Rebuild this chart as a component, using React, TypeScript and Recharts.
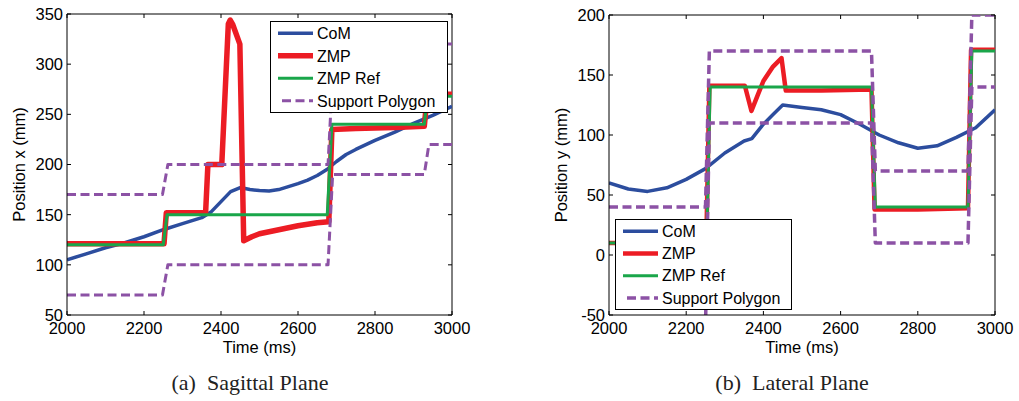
import { LineChart, Line, XAxis, YAxis, Legend, ReferenceLine } from "recharts";

type Pt = { t: number; v: number };
const zip = (ts: number[], vs: number[]): Pt[] => ts.map((t, i) => ({ t, v: vs[i] }));

const TIME_TICKS = [2000, 2200, 2400, 2600, 2800, 3000];
const SAG_TICKS = [50, 100, 150, 200, 250, 300, 350];
const LAT_TICKS = [-50, 0, 50, 100, 150, 200];

// sagittal plane (a)
const SAG_COM_T = [2000, 2050, 2100, 2150, 2200, 2250, 2300, 2350, 2375, 2400, 2425, 2450, 2475, 2500, 2525, 2550, 2575, 2600, 2625, 2650, 2675, 2700, 2725, 2750, 2800, 2850, 2900, 2950, 3000];
const SAG_COM_V = [105, 111, 117, 122, 128, 135, 141, 147, 153, 163, 173, 177, 175, 174, 173.5, 175, 178, 181, 184.5, 189, 195, 203, 210, 215, 224, 232, 241, 249, 258];
const SAG_ZMP_T = [2000, 2252, 2258, 2360, 2366, 2402, 2419, 2424, 2430, 2449, 2459, 2480, 2500, 2550, 2600, 2650, 2680, 2688, 2750, 2850, 2928, 2936, 3000];
const SAG_ZMP_V = [121, 121, 152, 152, 200, 200, 340, 344, 340, 320, 124, 128, 131, 135, 139, 142, 143, 235, 236, 237, 238, 270, 270];
const SAG_REF_T = [2000, 2250, 2260, 2676, 2688, 2928, 2936, 3000];
const SAG_REF_V = [120, 120, 150, 150, 240, 240, 268, 268];
const SAG_POLY_T = [2000, 2248, 2262, 2678, 2690, 2928, 2940, 3000];
const SAG_POLY_HI = [170, 170, 200, 200, 290, 290, 320, 320];
const SAG_POLY_LO = [70, 70, 100, 100, 190, 190, 220, 220];

// lateral plane (b)
const LAT_COM_T = [2000, 2050, 2100, 2150, 2200, 2250, 2300, 2350, 2370, 2400, 2425, 2450, 2500, 2550, 2600, 2650, 2700, 2750, 2800, 2850, 2900, 2950, 3000];
const LAT_COM_V = [60, 55, 53, 56, 63, 72, 85, 95, 97, 109, 117, 125, 123, 121, 117, 109, 100, 93.5, 89, 91, 98, 106, 121];
const LAT_ZMP_T = [2000, 2252, 2260, 2352, 2369, 2385, 2400, 2425, 2447, 2458, 2550, 2680, 2688, 2800, 2930, 2938, 3000];
const LAT_ZMP_V = [10, 10, 141, 141, 120, 133, 145, 157, 164, 137, 137, 138, 38, 38, 39, 171, 171];
const LAT_REF_T = [2000, 2253, 2262, 2680, 2690, 2930, 2940, 3000];
const LAT_REF_V = [10, 10, 140, 140, 40, 40, 170, 170];
const LAT_POLY_T = [2000, 2250, 2260, 2680, 2690, 2930, 2940, 3000];
const LAT_POLY_HI = [40, 40, 170, 170, 70, 70, 200, 200];
const LAT_POLY_LO = [-60, -60, 110, 110, 10, 10, 140, 140];

const BLUE = "#2c4d9e";
const RED = "#ec1c24";
const GREEN = "#1aa64a";
const PURPLE = "#8c52a5";
const DASH = "9 4.5";

const FONT = "'Liberation Sans', Arial, sans-serif";
const SERIF = "'Liberation Serif', 'Times New Roman', serif";
const CHART_H = 401;
const Y_AXIS_W = 50;
const X_AXIS_H = 40;
const TICK = 4;

interface Series {
  key: string;
  name: string;
  data: Pt[];
  color: string;
  width: number;
  dash?: string;
  legend: boolean;
}

interface PanelProps {
  width: number;
  margin: { top: number; right: number; bottom: number; left: number };
  yDomain: [number, number];
  yTicks: number[];
  yLabel: string;
  caption: string;
  captionX: number;
  series: Series[];
  legendBox: { left: number; top: number; width: number; height: number };
}

function Panel(p: PanelProps) {
  const plotL = p.margin.left + Y_AXIS_W;
  const plotR = p.width - p.margin.right;
  const plotT = p.margin.top;
  const plotB = CHART_H - p.margin.bottom - X_AXIS_H;
  const cx = (plotL + plotR) / 2;
  const cy = (plotT + plotB) / 2;

  const xTick = (props: any) => {
    const { x, payload } = props;
    return (
      <g>
        <line x1={x} y1={plotB} x2={x} y2={plotB - TICK} stroke="#000" />
        <line x1={x} y1={plotT} x2={x} y2={plotT + TICK} stroke="#000" />
        <text x={x} y={plotB + 19} textAnchor="middle" fontFamily={FONT} fontSize={16.5} fill="#000">
          {payload.value}
        </text>
      </g>
    );
  };

  const yTick = (props: any) => {
    const { y, payload } = props;
    return (
      <g>
        <line x1={plotL} y1={y} x2={plotL + TICK} y2={y} stroke="#000" />
        <line x1={plotR} y1={y} x2={plotR - TICK} y2={y} stroke="#000" />
        <text x={plotL - 4} y={y} dy="0.36em" textAnchor="end" fontFamily={FONT} fontSize={16.5} fill="#000">
          {payload.value}
        </text>
      </g>
    );
  };

  // legend rows follow the series order; one row per legend-visible series
  const legendContent = () => {
    const items = p.series.filter((s) => s.legend);
    const { width, height } = p.legendBox;
    const rowH = (height - 2) / items.length;
    return (
      <svg width={width} height={height} style={{ display: "block" }}>
        <rect x={0.5} y={0.5} width={width - 1} height={height - 1} fill="#fff" stroke="#000" />
        {items.map((s, i) => {
          const ry = 1 + rowH * (i + 0.5);
          return (
            <g key={s.key}>
              <line x1={s.dash ? 12 : 8} y1={ry} x2={43} y2={ry} stroke={s.color} strokeWidth={s.width} strokeDasharray={s.dash} />
              <text x={47} y={ry} dy="0.36em" fontFamily={FONT} fontSize={16} fill="#000">
                {s.name}
              </text>
            </g>
          );
        })}
      </svg>
    );
  };

  return (
    <LineChart width={p.width} height={CHART_H} margin={p.margin}>
      <XAxis
        type="number"
        dataKey="t"
        domain={[2000, 3000]}
        ticks={TIME_TICKS}
        interval={0}
        height={X_AXIS_H}
        tickSize={0}
        tickMargin={0}
        tickLine={false}
        tick={xTick}
        axisLine={{ stroke: "#000" }}
        allowDataOverflow
        label={() => (
          <g>
            <text x={cx} y={plotB + 38} textAnchor="middle" fontFamily={FONT} fontSize={16.5} fill="#000">
              Time (ms)
            </text>
            <text x={p.captionX} y={390} textAnchor="middle" fontFamily={SERIF} fontSize={22} fill="#222" style={{ whiteSpace: "pre" }}>
              {p.caption}
            </text>
          </g>
        )}
      />
      <YAxis
        type="number"
        domain={p.yDomain}
        ticks={p.yTicks}
        interval={0}
        width={Y_AXIS_W}
        tickSize={0}
        tickMargin={0}
        tickLine={false}
        tick={yTick}
        axisLine={{ stroke: "#000" }}
        allowDataOverflow
        label={() => (
          <text
            x={plotL - 42}
            y={cy}
            transform={`rotate(-90, ${plotL - 42}, ${cy})`}
            textAnchor="middle"
            fontFamily={FONT}
            fontSize={16.5}
            fill="#000"
          >
            {p.yLabel}
          </text>
        )}
      />
      <ReferenceLine y={p.yDomain[1]} stroke="#000" />
      <ReferenceLine x={3000} stroke="#000" />
      {p.series.map((s) => (
        <Line
          key={s.key}
          data={s.data}
          dataKey="v"
          name={s.name}
          stroke={s.color}
          strokeWidth={s.width}
          strokeDasharray={s.dash}
          strokeLinejoin="round"
          dot={false}
          activeDot={false}
          legendType={s.legend ? "line" : "none"}
          isAnimationActive={false}
        />
      ))}
      <Legend
        layout="vertical"
        align="center"
        verticalAlign="middle"
        width={p.legendBox.width}
        height={p.legendBox.height}
        wrapperStyle={{ left: p.legendBox.left, top: p.legendBox.top, width: p.legendBox.width, height: p.legendBox.height }}
        content={legendContent}
      />
    </LineChart>
  );
}

const sagSeries: Series[] = [
  { key: "com", name: "CoM", data: zip(SAG_COM_T, SAG_COM_V), color: BLUE, width: 3.5, legend: true },
  { key: "zmp", name: "ZMP", data: zip(SAG_ZMP_T, SAG_ZMP_V), color: RED, width: 5.5, legend: true },
  { key: "ref", name: "ZMP Ref", data: zip(SAG_REF_T, SAG_REF_V), color: GREEN, width: 3, legend: true },
  { key: "polyHi", name: "Support Polygon", data: zip(SAG_POLY_T, SAG_POLY_HI), color: PURPLE, width: 3, dash: DASH, legend: true },
  { key: "polyLo", name: "Support Polygon", data: zip(SAG_POLY_T, SAG_POLY_LO), color: PURPLE, width: 3, dash: DASH, legend: false },
];

const latSeries: Series[] = [
  { key: "com", name: "CoM", data: zip(LAT_COM_T, LAT_COM_V), color: BLUE, width: 3.5, legend: true },
  { key: "zmp", name: "ZMP", data: zip(LAT_ZMP_T, LAT_ZMP_V), color: RED, width: 4.5, legend: true },
  { key: "ref", name: "ZMP Ref", data: zip(LAT_REF_T, LAT_REF_V), color: GREEN, width: 3, legend: true },
  { key: "polyHi", name: "Support Polygon", data: zip(LAT_POLY_T, LAT_POLY_HI), color: PURPLE, width: 3.5, dash: DASH, legend: true },
  { key: "polyLo", name: "Support Polygon", data: zip(LAT_POLY_T, LAT_POLY_LO), color: PURPLE, width: 3.5, dash: DASH, legend: false },
];

export default function App() {
  return (
    <div style={{ position: "absolute", left: 0, top: 0, width: 1019, height: 401, background: "#fff", overflow: "hidden" }}>
      <div style={{ position: "absolute", left: 0, top: 0 }}>
        <Panel
          width={500}
          margin={{ top: 14, right: 48, bottom: 46, left: 17 }}
          yDomain={[50, 350]}
          yTicks={SAG_TICKS}
          yLabel="Position x (mm)"
          caption="(a)  Sagittal Plane"
          captionX={250}
          series={sagSeries}
          legendBox={{ left: 270, top: 21, width: 178, height: 92 }}
        />
      </div>
      <div style={{ position: "absolute", left: 500, top: 0 }}>
        <Panel
          width={519}
          margin={{ top: 15, right: 24, bottom: 46, left: 59 }}
          yDomain={[-50, 200]}
          yTicks={LAT_TICKS}
          yLabel="Position y (mm)"
          caption="(b)  Lateral Plane"
          captionX={292}
          series={latSeries}
          legendBox={{ left: 115, top: 219, width: 177, height: 91 }}
        />
      </div>
    </div>
  );
}
